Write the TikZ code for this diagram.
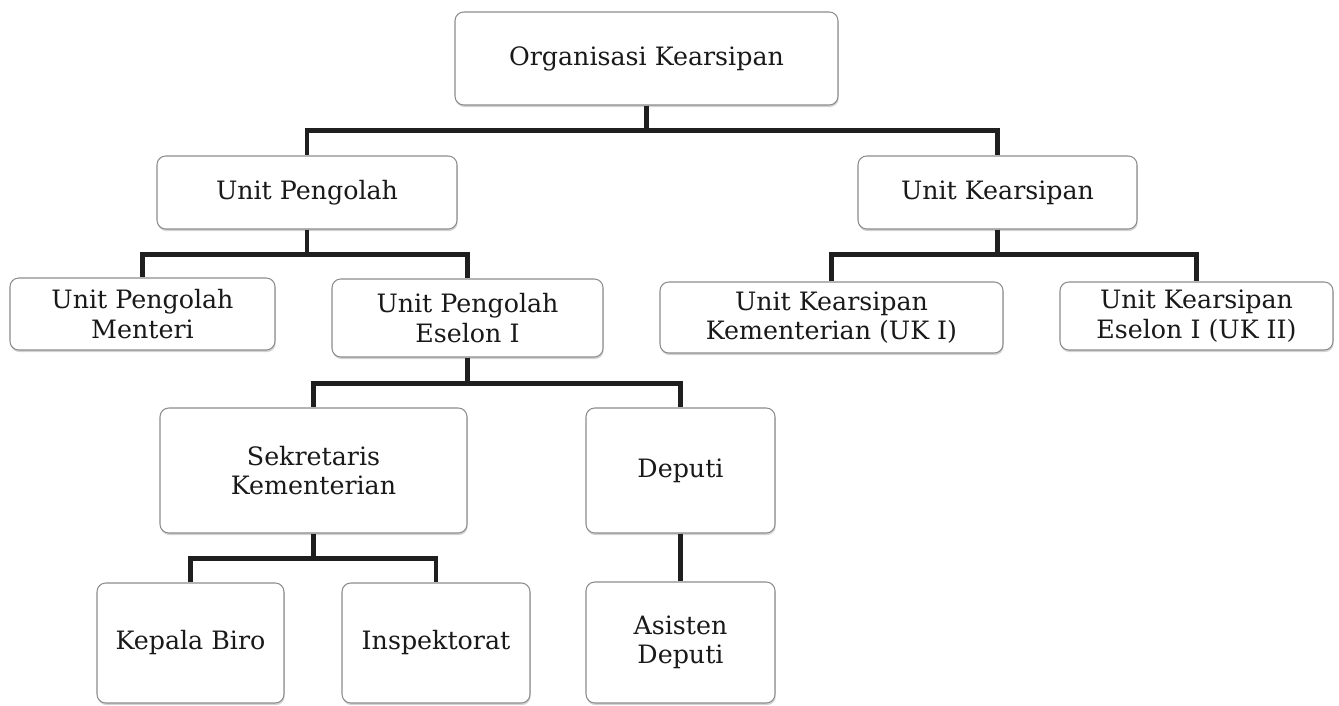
\documentclass[tikz,border=0pt]{standalone}
\usepackage{fontspec}
\setmainfont{DejaVu Serif}
\usetikzlibrary{positioning, shadows}
\definecolor{boxline}{rgb}{0.55,0.55,0.55}
\definecolor{linkline}{rgb}{0.12,0.12,0.12}

\begin{document}
\begin{tikzpicture}[unit/.style={draw=boxline, line width=0.6pt, fill=white, rounded corners=5pt, align=center, inner sep=2pt, text=black!90, font=\fontsize{14.4}{16.8}\selectfont, drop shadow={shadow xshift=0.4pt, shadow yshift=-1.2pt, opacity=0.35}}, link/.style={draw=linkline, line width=2.4pt}]
  \useasboundingbox (0,0) rectangle (26.78,-14.12);
  \node[unit, minimum width=7.66cm, minimum height=1.86cm] (org) at (12.93, -1.17)  {Organisasi Kearsipan};
  \node[unit, minimum width=6.00cm, minimum height=1.46cm] (up)  at (6.14, -3.85)   {Unit Pengolah};
  \node[unit, minimum width=5.58cm, minimum height=1.46cm] (uk)  at (19.95, -3.85)  {Unit Kearsipan};
  \node[unit, minimum width=5.30cm, minimum height=1.44cm] (upm) at (2.85, -6.28)   {Unit Pengolah\\Menteri};
  \node[unit, minimum width=5.42cm, minimum height=1.56cm] (upe) at (9.35, -6.36)   {Unit Pengolah\\Eselon I};
  \node[unit, minimum width=6.86cm, minimum height=1.42cm] (uk1) at (16.63, -6.35)  {Unit Kearsipan\\Kementerian (UK I)};
  \node[unit, minimum width=5.46cm, minimum height=1.36cm] (uk2) at (23.93, -6.32)  {Unit Kearsipan\\Eselon I (UK II)};
  \node[unit, minimum width=6.14cm, minimum height=2.50cm] (sek) at (6.27, -9.41)   {Sekretaris\\Kementerian};
  \node[unit, minimum width=3.78cm, minimum height=2.50cm] (dep) at (13.61, -9.41)  {Deputi};
  \node[unit, minimum width=3.74cm, minimum height=2.40cm] (kb)  at (3.81, -12.86)  {Kepala Biro};
  \node[unit, minimum width=3.76cm, minimum height=2.40cm] (ins) at (8.72, -12.86)  {Inspektorat};
  \node[unit, minimum width=3.78cm, minimum height=2.42cm] (asd) at (13.61, -12.85) {Asisten\\Deputi};
  \draw[link] (org.south) -- ++(0,-0.5) -| (up.north);
  \draw[link] (org.south) -- ++(0,-0.5) -| (uk.north);
  \draw[link] (up.south) -- ++(0,-0.5) -| (upm.north);
  \draw[link] (up.south) -- ++(0,-0.5) -| (upe.north);
  \draw[link] (uk.south) -- ++(0,-0.5) -| (uk1.north);
  \draw[link] (uk.south) -- ++(0,-0.5) -| (uk2.north);
  \draw[link] (upe.south) -- ++(0,-0.52) -| (sek.north);
  \draw[link] (upe.south) -- ++(0,-0.52) -| (dep.north);
  \draw[link] (sek.south) -- ++(0,-0.5) -| (kb.north);
  \draw[link] (sek.south) -- ++(0,-0.5) -| (ins.north);
  \draw[link] (dep) -- (asd);
\end{tikzpicture}
\end{document}
